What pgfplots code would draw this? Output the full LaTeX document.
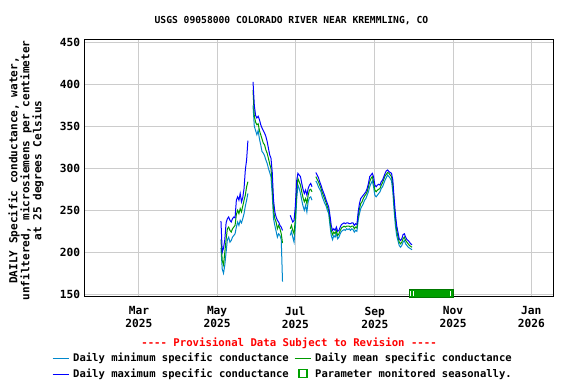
\documentclass[border=0pt]{standalone}
\usepackage{fontspec}
\setmonofont{DejaVu Sans Mono}
\renewcommand{\familydefault}{\ttdefault}
\usepackage{pgfplots}
\usepackage{pgfplotstable}
\pgfplotsset{compat=1.18}
\definecolor{minc}{RGB}{0,136,204}
\definecolor{maxc}{RGB}{0,0,255}
\definecolor{meanc}{RGB}{0,153,0}
\definecolor{boxc}{RGB}{0,160,0}
\definecolor{boxe}{RGB}{0,120,0}
\definecolor{gridc}{RGB}{204,204,204}

\pgfplotstableread{
day lo me hi
123 205 215 237
124 180 190 200
125 175 185 205
126 185 200 215
127 200 215 235
128 215 228 240
129 218 230 242
130 212 226 238
131 214 224 236
132 218 228 240
133 220 230 242
134 222 232 241
135 230 245 262
136 236 250 266
137 232 246 262
138 238 252 270
139 235 248 260
140 240 255 265
141 246 262 276
142 255 268 298
143 262 278 310
144 270 284 333
145 nan nan nan
148 375 393 403
149 350 362 375
150 345 355 363
151 340 352 360
152 345 353 362
153 335 345 358
154 328 340 352
155 320 335 348
156 318 330 345
157 315 328 342
158 310 322 338
159 306 318 332
160 300 312 324
161 295 305 316
162 290 300 312
163 268 280 295
164 240 250 262
165 232 240 248
166 225 236 242
167 218 228 238
168 222 232 236
169 220 228 232
170 215 222 230
171 165 211 226
172 nan nan nan
177 220 228 244
178 225 232 240
179 218 226 236
180 212 222 238
181 230 240 255
182 262 272 285
183 280 288 294
184 276 284 292
185 270 280 290
186 262 272 282
187 255 265 275
188 250 260 270
189 256 264 274
190 248 258 268
191 260 268 276
192 265 274 280
193 266 275 282
194 262 272 278
195 nan nan nan
197 285 290 295
198 282 287 292
199 278 284 289
200 275 280 284
201 272 276 280
202 266 271 275
203 262 267 271
204 258 263 267
205 255 259 262
206 250 254 258
207 246 250 254
208 232 238 244
209 220 226 232
210 215 221 226
211 220 224 228
212 218 222 226
213 222 226 230
214 216 220 225
215 218 222 226
216 222 226 230
217 225 229 233
218 226 230 234
219 227 231 235
220 226 230 234
221 228 231 235
222 227 231 235
223 228 231 234
224 226 230 234
225 228 231 235
226 227 231 235
227 224 228 232
228 226 230 234
229 225 229 233
230 238 243 248
231 246 252 258
232 252 258 264
233 255 260 266
234 258 264 268
235 262 267 270
236 264 269 272
237 268 272 276
238 272 278 282
239 278 284 290
240 282 288 292
241 285 290 294
242 278 284 290
243 268 274 280
244 266 272 278
245 268 274 280
246 270 275 281
247 272 276 280
248 276 280 284
249 278 283 286
250 282 287 290
251 286 291 294
252 289 293 297
253 292 295 298
254 290 294 296
255 288 292 295
256 285 290 294
257 272 280 286
258 250 258 265
259 232 240 246
260 220 226 232
261 214 219 224
262 208 212 216
263 206 210 214
264 208 212 216
265 212 216 221
266 214 218 222
267 210 214 218
268 208 212 215
269 206 210 214
270 205 208 212
271 204 207 210
272 203 206 209
}\data

\begin{document}
\begin{tikzpicture}[font=\ttfamily\bfseries]
\begin{axis}[
  name=ax, at={(0,0)}, anchor=south west,
  scale only axis, width=352.3pt, height=193pt,
  xmin=16.4, xmax=382.7, ymin=147.1, ymax=453.6,
  xtick={59,120,181,243,304,365},
  xticklabels={{Mar\\2025},{May\\2025},{Jul\\2025},{Sep\\2025},{Nov\\2025},{Jan\\2026}},
  xticklabel style={align=center, font=\fontsize{8.4}{9.75}\selectfont\ttfamily\bfseries, yshift=-4pt},
  ytick={150,200,250,300,350,400,450},
  yticklabel style={font=\fontsize{8.4}{9.75}\selectfont\ttfamily\bfseries, xshift=0.5pt},
  /pgf/number format/assume math mode=true,
  grid=major, major grid style={gridc, line width=0.75pt},
  axis line style={black, line width=0.75pt},
  tick style={draw=none},
  unbounded coords=jump, clip=false,
  ylabel={DAILY Specific conductance, water,\\unfiltered, microsiemens per centimeter\\at 25 degrees Celsius},
  ylabel style={align=center, font=\fontsize{8.3}{9}\selectfont\ttfamily\bfseries, at={(axis description cs:-0.124,0.49)}, anchor=center},
  legend columns=2,
  legend cell align=left,
  legend style={at={(axis description cs:-0.0688,-0.213)}, anchor=north west, draw=none, fill=none, inner sep=0pt,
    font=\fontsize{7.9}{9}\selectfont\ttfamily\bfseries,
    nodes={inner sep=1pt, text height=6pt, text depth=1.5pt},
    /tikz/row sep=2.6pt,
    /tikz/every odd column/.append style={column sep=1.5pt},
    /tikz/every even column/.append style={column sep=3pt}},
]
\addplot[minc, line width=0.75pt, forget plot] table[x=day, y=lo] {\data};
\addplot[meanc, line width=0.75pt, forget plot] table[x=day, y=me] {\data};
\addplot[maxc, line width=0.75pt, forget plot] table[x=day, y=hi] {\data};
\addplot[fill=boxc, draw=boxe, line width=0.75pt, forget plot] coordinates {(269.7,146.1) (304.6,146.1) (304.6,155.9) (269.7,155.9)} -- cycle;
\addplot[white, line width=0.75pt, forget plot] coordinates {(270.8,147.3) (270.8,153.6) (273.4,nan) (273.4,147.3) (273.4,153.6) (302.1,nan) (302.1,147.3) (302.1,153.6)};
\addlegendimage{legend image code/.code={\draw[minc, line width=0.75pt] (0pt,0pt) -- (12.5pt,0pt);}}
\addlegendentry{Daily minimum specific conductance}
\addlegendimage{legend image code/.code={\draw[meanc, line width=0.75pt] (0pt,0pt) -- (12.5pt,0pt);}}
\addlegendentry{Daily mean specific conductance}
\addlegendimage{legend image code/.code={\draw[maxc, line width=0.75pt] (0pt,0pt) -- (12.5pt,0pt);}}
\addlegendentry{Daily maximum specific conductance}
\addlegendimage{legend image code/.code={\draw[draw=boxc, line width=0.9pt] (3.25pt,-2.6pt) rectangle (9.25pt,3.4pt);}}
\addlegendentry{Parameter monitored seasonally.}
\node[text=red, font=\fontsize{8}{9}\selectfont\ttfamily\bfseries] at (axis description cs:0.436,-0.183) {---- Provisional Data Subject to Revision ----};
\node[font=\fontsize{7.25}{9}\selectfont\ttfamily\bfseries] at (axis description cs:0.441,1.071) {USGS 09058000 COLORADO RIVER NEAR KREMMLING, CO};
\end{axis}
\pgfresetboundingbox
\path[use as bounding box] (-63.2pt,-65.5pt) rectangle (368.8pt,222.5pt);
\end{tikzpicture}
\end{document}
